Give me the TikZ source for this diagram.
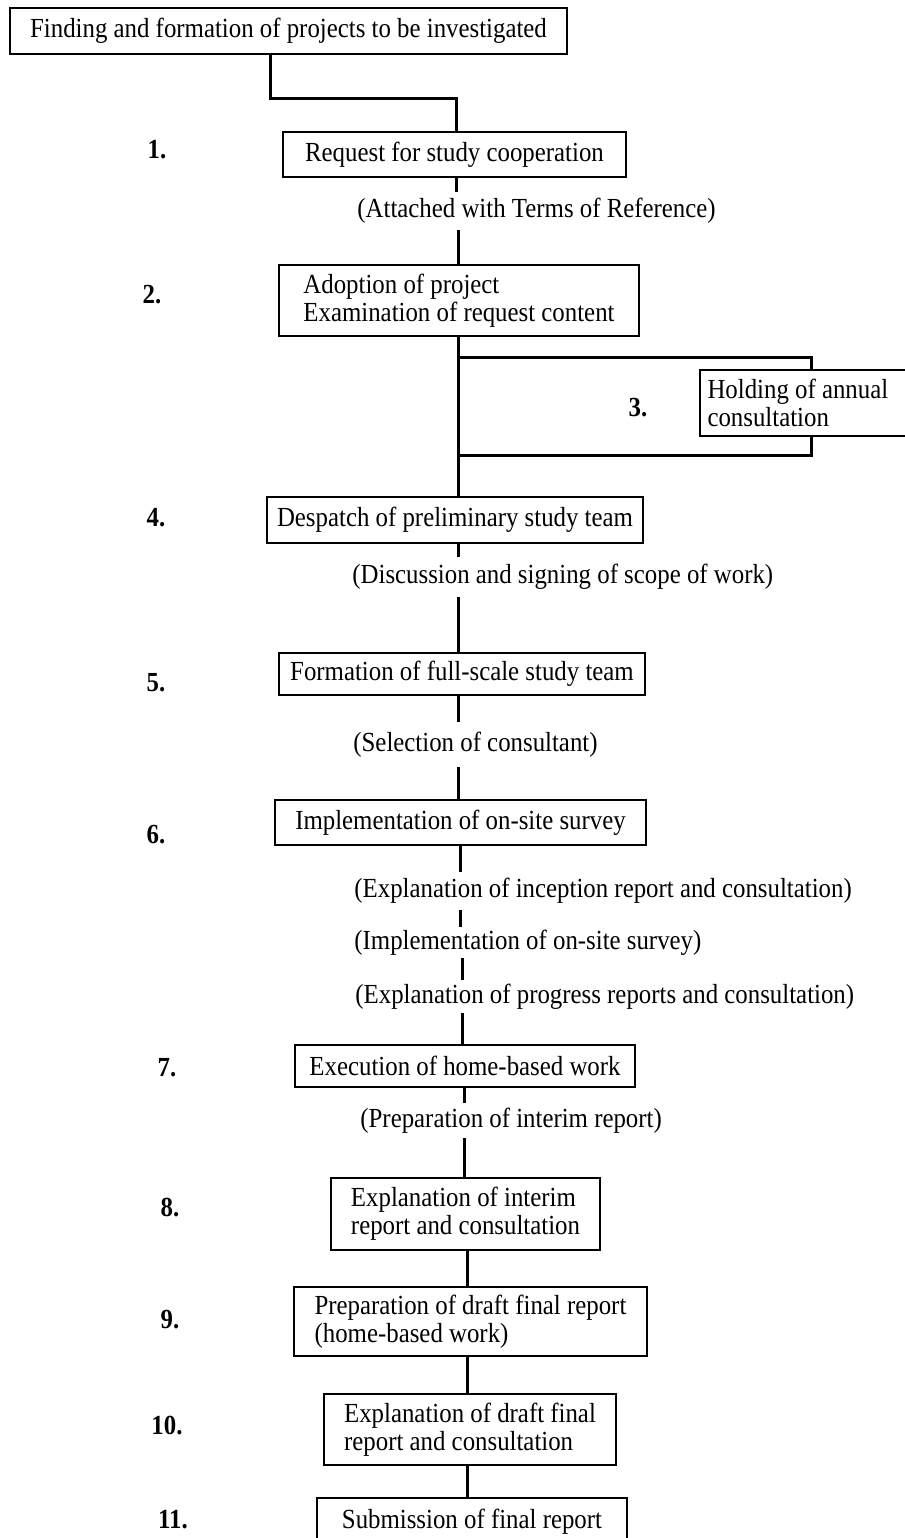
\documentclass[tikz,border=0pt]{standalone}
\usepackage{fontspec}
\setmainfont{Liberation Serif}[FakeStretch=0.9]
\begin{document}
\begin{tikzpicture}[x=0.5pt,y=-0.5pt,
  txt/.style={font=\fontsize{13.8pt}{14pt}\selectfont},
  box/.style={draw, line width=1.2pt, inner sep=0pt, txt, align=left},
  lab/.style={inner sep=0pt, anchor=west, txt},
  num/.style={inner sep=0pt, font=\fontsize{13.8pt}{14pt}\selectfont\bfseries},
  link/.style={line width=1.5pt}]
\useasboundingbox (0,0) rectangle (905,1538);
\clip (0,0) rectangle (905,1538);
\fill[white] (0,0) rectangle (905,1538);

% process boxes
\node[box, minimum width={557*0.5pt}, minimum height={46*0.5pt}] (find) at (288.5,31)
  {Finding and formation of projects to be investigated};
\node[box, minimum width={343*0.5pt}, minimum height={45*0.5pt}] (req) at (454.5,154.5)
  {Request for study cooperation};
\node[box, minimum width={360*0.5pt}, minimum height={71*0.5pt}] (adopt) at (459,300.5)
  {Adoption of project\\Examination of request content};
\node[box, minimum width={215*0.5pt}, minimum height={66*0.5pt}, text width={200*0.5pt}, align=flush left] (hold) at (807.5,403)
  {Holding of annual\\consultation};
\node[box, minimum width={376*0.5pt}, minimum height={46*0.5pt}] (desp) at (455,520)
  {Despatch of preliminary study team};
\node[box, minimum width={366*0.5pt}, minimum height={42*0.5pt}] (form) at (462,674)
  {Formation of full-scale study team};
\node[box, minimum width={371*0.5pt}, minimum height={45*0.5pt}] (impl) at (460.5,822.5)
  {Implementation of on-site survey};
\node[box, minimum width={340*0.5pt}, minimum height={42*0.5pt}] (exec) at (465,1066)
  {Execution of home-based work};
\node[box, minimum width={269*0.5pt}, minimum height={72*0.5pt}] (interim) at (465.5,1214)
  {Explanation of interim\\report and consultation};
\node[box, minimum width={353*0.5pt}, minimum height={69*0.5pt}] (prep) at (470.5,1321.5)
  {Preparation of draft final report\\(home-based work)};
\node[box, minimum width={292*0.5pt}, minimum height={71*0.5pt}] (expd) at (470,1429.5)
  {Explanation of draft final\\report and consultation};
\node[box, minimum width={310*0.5pt}, minimum height={48*0.5pt}] (subm) at (472,1522)
  {Submission of final report};

% intermediate labels on the main line
\node[lab, minimum height={38*0.5pt}] (att) at (357,211) {(Attached with Terms of Reference)};
\node[lab, minimum height={40*0.5pt}] (disc) at (352,577) {(Discussion and signing of scope of work)};
\node[lab, minimum height={45*0.5pt}] (sel) at (353,744.5) {(Selection of consultant)};
\node[lab, minimum height={38*0.5pt}] (inc) at (354,891) {(Explanation of inception report and consultation)};
\node[lab, minimum height={31*0.5pt}] (surv) at (354,942.5) {(Implementation of on-site survey)};
\node[lab, minimum height={33*0.5pt}] (prog) at (355,996.5) {(Explanation of progress reports and consultation)};
\node[lab, minimum height={35*0.5pt}] (intr) at (360,1120.5) {(Preparation of interim report)};

% step numbers
\node[num] (n1) at (157,150) {1.};
\node[num] (n2) at (152,295) {2.};
\node[num] (n3) at (638,408) {3.};
\node[num] (n4) at (156,518) {4.};
\node[num] (n5) at (156,683) {5.};
\node[num] (n6) at (156,835) {6.};
\node[num] (n7) at (167,1068) {7.};
\node[num] (n8) at (170,1208) {8.};
\node[num] (n9) at (170,1320) {9.};
\node[num] (n10) at (167,1425) {10.};
\node[num] (n11) at (173,1520) {11.};

% columns of the main line
\coordinate (xa) at (456,0);
\coordinate (xb) at (458,0);
\coordinate (xc) at (460,0);
\coordinate (xd) at (462,0);
\coordinate (xe) at (464,0);
\coordinate (xf) at (467,0);

% elbow from the first box
\coordinate (j1) at (270,98);
\coordinate (j2) at (456,98);
\draw[link] (find.south -| j1) -- (j1) -- (j2) -- (req.north -| j2);

% main line
\draw[link] (req.south -| xa) -- (att.north -| xa);
\draw[link] (att.south -| xb) -- (adopt.north -| xb);
\draw[link] (adopt.south -| xb) -- (desp.north -| xb);
\draw[link] (desp.south -| xb) -- (disc.north -| xb);
\draw[link] (disc.south -| xb) -- (form.north -| xb);
\draw[link] (form.south -| xb) -- (sel.north -| xb);
\draw[link] (sel.south -| xb) -- (impl.north -| xb);
\draw[link] (impl.south -| xc) -- (inc.north -| xc);
\draw[link] (inc.south -| xc) -- (surv.north -| xc);
\draw[link] (surv.south -| xd) -- (prog.north -| xd);
\draw[link] (prog.south -| xd) -- (exec.north -| xd);
\draw[link] (exec.south -| xe) -- (intr.north -| xe);
\draw[link] (intr.south -| xe) -- (interim.north -| xe);
\draw[link] (interim.south -| xf) -- (prep.north -| xf);
\draw[link] (prep.south -| xf) -- (expd.north -| xf);
\draw[link] (expd.south -| xf) -- (subm.north -| xf);

% side loop through the annual consultation
\coordinate (b1) at (458,357);
\coordinate (b2) at (811,357);
\coordinate (r1) at (811,455);
\coordinate (r2) at (458,455);
\draw[link] (b1) -- (b2) -- (hold.north -| b2);
\draw[link] (hold.south -| r1) -- (r1) -- (r2);
\end{tikzpicture}
\end{document}
